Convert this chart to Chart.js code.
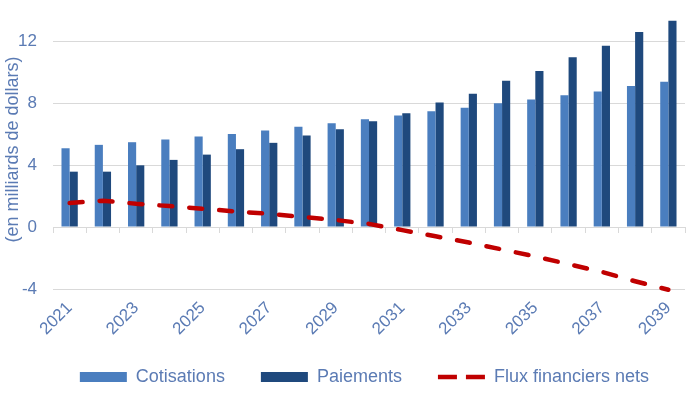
<!DOCTYPE html>
<html>
<head>
<meta charset="utf-8">
<script src="https://cdn.jsdelivr.net/npm/chart.js@4/dist/chart.umd.min.js"></script>
<style>
  html, body { margin: 0; padding: 0; background: #ffffff; }
  #wrap { width: 694px; height: 396px; }
</style>
</head>
<body>
<div id="wrap"><canvas id="c" width="694" height="396"></canvas></div>
<script>
const years = ['2021','2022','2023','2024','2025','2026','2027','2028','2029','2030',
               '2031','2032','2033','2034','2035','2036','2037','2038','2039'];
const cotisations = [5.08, 5.3, 5.47, 5.65, 5.84, 6.0, 6.23, 6.47, 6.69, 6.95,
                     7.2, 7.47, 7.7, 7.99, 8.23, 8.5, 8.74, 9.09, 9.37];
const paiements = [3.57, 3.57, 3.98, 4.33, 4.67, 5.02, 5.43, 5.9, 6.3, 6.82,
                   7.34, 8.03, 8.6, 9.44, 10.06, 10.95, 11.69, 12.58, 13.31];
const fluxNets = [1.55, 1.7, 1.5, 1.35, 1.18, 1.0, 0.85, 0.65, 0.45, 0.2,
                  -0.2, -0.6, -1.0, -1.45, -1.9, -2.4, -2.9, -3.5, -4.05];
const yTicks = [-4, 0, 4, 8, 12];

const textColor = '#5b7bb4';
const gridColor = '#d9d9d9';
const fontFamily = '"Liberation Sans", Arial, sans-serif';

new Chart(document.getElementById('c'), {
  data: {
    labels: years,
    datasets: [
      { type: 'bar', label: 'Cotisations', data: cotisations, backgroundColor: '#4a7ebf',
        borderWidth: 0, categoryPercentage: 0.49, barPercentage: 1, order: 1, xAxisID: 'x' },
      { type: 'bar', label: 'Paiements', data: paiements, backgroundColor: '#1f497d',
        borderWidth: 0, categoryPercentage: 0.49, barPercentage: 1, order: 1, xAxisID: 'x' },
      { type: 'line', label: 'Flux financiers nets', data: fluxNets, borderColor: '#c00000',
        backgroundColor: '#c00000', borderWidth: 4.5, borderDash: [13, 17], borderCapStyle: 'round',
        pointRadius: 0, tension: 0, fill: false, clip: false, order: 0, xAxisID: 'x' }
    ]
  },
  options: {
    responsive: false,
    animation: false,
    layout: { padding: { top: 10, right: 9, left: 2, bottom: 0 } },
    scales: {
      x: {
        type: 'category',
        position: { y: 0 },
        offset: true,
        grid: { offset: true, drawOnChartArea: false, drawTicks: true, tickLength: 5, color: gridColor },
        border: { color: gridColor, width: 1 },
        ticks: { display: false },
        afterFit: (s) => { s.paddingLeft = 0; s.paddingRight = 0; }
      },
      x2: {
        type: 'category',
        labels: years,
        position: 'bottom',
        offset: true,
        grid: { display: false, drawTicks: false },
        border: { display: false },
        ticks: {
          autoSkip: false, minRotation: 45, maxRotation: 45, padding: 9,
          color: textColor, font: { family: fontFamily, size: 17 },
          callback: function (v, i) { return i % 2 === 0 ? this.getLabelForValue(v) : ''; }
        },
        afterFit: (s) => {
          s.paddingLeft = 0; s.paddingRight = 0; s.height = 43;
          s._computeLabelArea = () => undefined;
        }
      },
      y: {
        min: -4, max: 14,
        afterBuildTicks: (scale) => { scale.ticks = yTicks.map(v => ({ value: v })); },
        afterFit: (s) => { s.width = 51; s.paddingTop = 0; s.paddingBottom = 0; },
        grid: { color: gridColor, drawTicks: false, lineWidth: 1 },
        border: { display: false },
        ticks: { color: textColor, font: { family: fontFamily, size: 17 }, padding: 16 },
        title: { display: true, text: '(en milliards de dollars)', color: textColor,
                 font: { family: fontFamily, size: 18 }, padding: { top: 0, bottom: 0 } }
      }
    },
    plugins: {
      tooltip: { enabled: false },
      legend: {
        position: 'bottom',
        align: 'end',
        labels: {
          usePointStyle: true, pointStyleWidth: 47, boxHeight: 10, padding: 36,
          color: textColor, font: { family: fontFamily, size: 18 },
          generateLabels: (chart) => {
            const items = Chart.defaults.plugins.legend.labels.generateLabels(chart);
            items.forEach(it => {
              const ds = chart.data.datasets[it.datasetIndex];
              if (ds.type === 'line') {
                it.pointStyle = 'line'; it.lineDash = [19, 9]; it.lineWidth = 4.5;
                it.strokeStyle = '#c00000'; it.lineCap = 'butt';
              } else {
                it.pointStyle = 'rect'; it.lineWidth = 0;
              }
            });
            return items.sort((a, b) => a.datasetIndex - b.datasetIndex);
          }
        }
      }
    }
  }
});
</script>
</body>
</html>
